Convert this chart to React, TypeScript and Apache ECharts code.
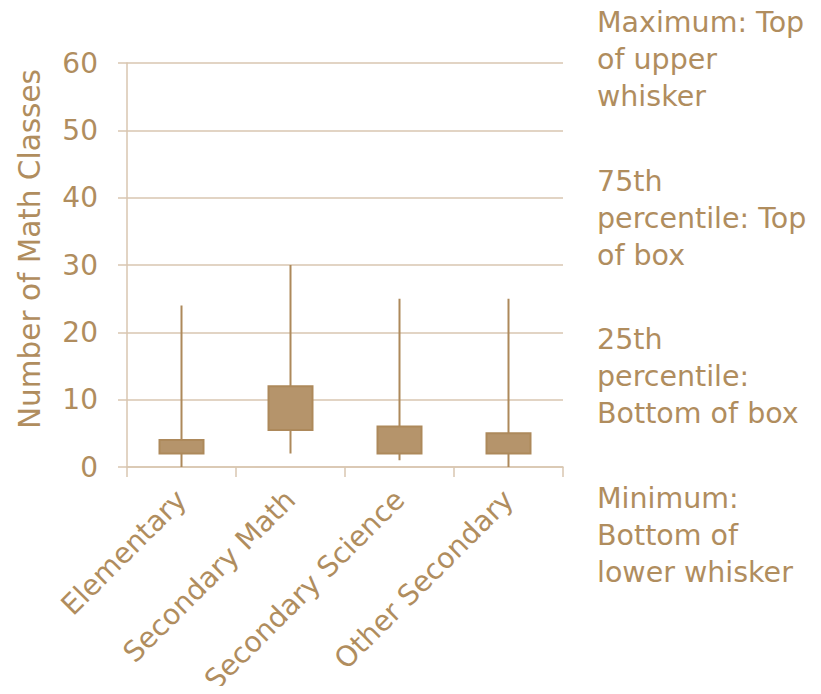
import React, { useEffect, useRef } from "react";
import * as echarts from "echarts";

const categories = ["Elementary", "Secondary Math", "Secondary Science", "Other Secondary"];
// [min, q1, q3, max]
const minValues = [0, 2, 1, 0];
const q1Values = [2, 5.5, 2, 2];
const q3Values = [4, 12, 6, 5];
const maxValues = [24, 30, 25, 25];
const yTicks = [0, 10, 20, 30, 40, 50, 60];
const yTitle = "Number of Math Classes";
const notes = [
  ["Maximum: Top", "of upper", "whisker"],
  ["75th", "percentile: Top", "of box"],
  ["25th", "percentile:", "Bottom of box"],
  ["Minimum:", "Bottom of", "lower whisker"],
];

const TEXT = "#b08d5e";
const GRID = "#d9c6b0";
const FONT = "DejaVu Sans";

export default function App() {
  const ref = useRef<HTMLDivElement>(null);
  useEffect(() => {
    if (!ref.current) return;
    const chart = echarts.init(ref.current, null, { renderer: "svg" });
    const data = categories.map((_, i) => [q1Values[i], q3Values[i], minValues[i], maxValues[i]]);
    const graphics: any[] = notes.map((lines, i) => ({
      type: "text",
      left: 589,
      top: -4 + i * 158.5,
      style: {
        text: lines.join("\n"),
        fill: TEXT,
        font: `28.5px "${FONT}"`,
        lineHeight: 37,
      },
    }));
    graphics.push({
      type: "text",
      x: 22,
      y: 241,
      rotation: Math.PI / 2,
      style: {
        text: yTitle,
        fill: TEXT,
        font: `29.5px "${FONT}"`,
        align: "center",
        verticalAlign: "middle",
      },
    });
    chart.setOption({
      animation: false,
      grid: {
        left: 119,
        right: 250,
        top: 55,
        bottom: 219,
        containLabel: false,
        outerBoundsMode: "none",
      },
      xAxis: {
        type: "category",
        data: categories,
        boundaryGap: true,
        axisLine: { lineStyle: { color: GRID, width: 1.5 } },
        axisTick: { show: true, length: 10, lineStyle: { color: GRID, width: 1.5 } },
        axisLabel: {
          rotate: 45,
          margin: 28,
          color: TEXT,
          fontFamily: FONT,
          fontSize: 28.3,
        },
        splitLine: { show: false },
      },
      yAxis: {
        type: "value",
        min: yTicks[0],
        max: yTicks[yTicks.length - 1],
        interval: 10,
        axisLine: { show: true, lineStyle: { color: GRID, width: 1.5 } },
        axisTick: { show: true, length: 9, lineStyle: { color: GRID, width: 1.5 } },
        axisLabel: { margin: 29, color: TEXT, fontFamily: FONT, fontSize: 28 },
        splitLine: { show: true, lineStyle: { color: GRID, width: 1.5 } },
      },
      series: [
        {
          type: "candlestick",
          data,
          barWidth: "41%",
          itemStyle: {
            color: "#b5946b",
            color0: "#b5946b",
            borderColor: "#ad895b",
            borderColor0: "#ad895b",
            borderWidth: 2,
          },
        },
      ],
      graphic: graphics,
    });
    return () => chart.dispose();
  }, []);
  return <div ref={ref} style={{ width: 805, height: 678 }} />;
}
